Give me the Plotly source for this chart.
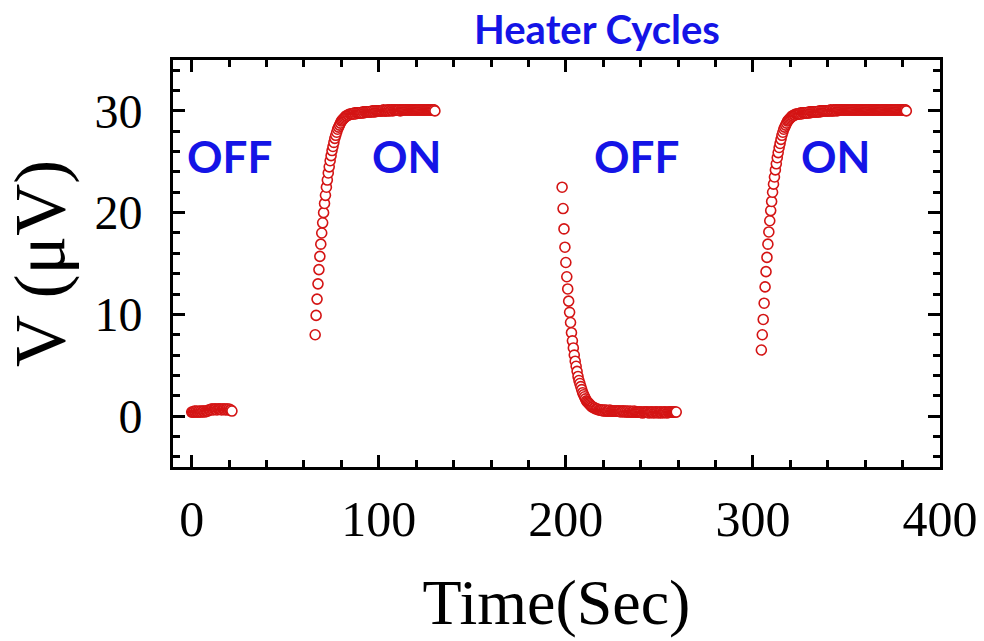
import plotly.graph_objects as go

# ---- data (time in s, voltage in µV) ----
t_off1 = [0.0, 0.5, 1.0, 1.5, 2.0, 2.5, 3.0, 3.5, 4.0, 4.5,
          5.0, 5.5, 6.0, 6.5, 7.0, 7.5, 8.0, 8.5, 9.0, 9.5,
          10.0, 10.5, 11.0, 11.5, 12.0, 12.5, 13.0, 13.5, 14.0, 14.5,
          15.0, 15.5, 16.0, 16.5, 17.0, 17.5, 18.0, 18.5, 19.0, 19.5,
          20.0, 20.5, 21.0, 21.5]
v_off1 = [0.4, 0.4, 0.4, 0.5, 0.4, 0.5, 0.4, 0.4, 0.5, 0.4,
          0.5, 0.4, 0.5, 0.5, 0.4, 0.5, 0.5, 0.5, 0.6, 0.6,
          0.6, 0.7, 0.7, 0.6, 0.7, 0.7, 0.7, 0.6, 0.7, 0.7,
          0.7, 0.7, 0.6, 0.7, 0.7, 0.7, 0.6, 0.7, 0.7, 0.6,
          0.7, 0.6, 0.6, 0.5]

t_on1 = [66.0, 66.5, 67.0, 67.5, 68.0, 68.5, 69.0, 69.5, 70.0, 70.5,
         71.0, 71.5, 72.0, 72.5, 73.0, 73.5, 74.0, 74.5, 75.0, 75.5,
         76.0, 76.5, 77.0, 77.5, 78.0, 78.5, 79.0, 79.5, 80.0, 80.5,
         81.0, 81.5, 82.0, 82.5, 83.0, 83.5, 84.0, 84.5, 85.0,
         85.5, 86.0, 86.5, 87.0, 87.5, 88.0, 88.5, 89.0, 89.5, 90.0,
         90.5, 91.0, 91.5, 92.0, 92.5, 93.0, 93.5, 94.0, 94.5, 95.0,
         95.5, 96.0, 96.5, 97.0, 97.5, 98.0, 98.5, 99.0, 99.5, 100.0,
         100.5, 101.0, 101.5, 102.0, 102.5, 103.0, 103.5, 104.0, 104.5, 105.0,
         105.5, 106.0, 106.5, 107.0, 107.5, 108.0, 108.5, 109.0, 109.5, 110.0,
         110.5, 111.0, 111.5, 112.0, 112.5, 113.0, 113.5, 114.0, 114.5, 115.0,
         115.5, 116.0, 116.5, 117.0, 117.5, 118.0, 118.5, 119.0, 119.5, 120.0,
         120.5, 121.0, 121.5, 122.0, 122.5, 123.0, 123.5, 124.0, 124.5, 125.0,
         125.5, 126.0, 126.5, 127.0, 127.5, 128.0, 128.5, 129.0, 129.5, 130.0]
v_on1 = [8.0, 9.9, 11.5, 13.0, 14.4, 15.7, 16.9, 18.0, 19.0, 20.0,
         20.9, 21.7, 22.5, 23.2, 23.9, 24.5, 25.1, 25.6, 26.1, 26.5,
         26.9, 27.3, 27.6, 27.9, 28.2, 28.4, 28.6, 28.8, 29.0, 29.1,
         29.2, 29.3, 29.4, 29.5, 29.5, 29.6, 29.6, 29.7, 29.7,
         29.7, 29.7, 29.7, 29.8, 29.7, 29.8, 29.8, 29.8, 29.8, 29.8,
         29.8, 29.8, 29.9, 29.8, 29.9, 29.9, 29.9, 29.9, 29.9, 29.9,
         29.9, 29.9, 30.0, 29.9, 30.0, 29.9, 30.0, 30.0, 30.0, 30.0,
         30.0, 30.0, 30.0, 30.0, 30.1, 30.0, 30.0, 30.0, 30.1, 30.0,
         30.1, 30.0, 30.1, 30.1, 30.0, 30.1, 30.1, 30.1, 30.1, 30.1,
         30.1, 30.1, 30.0, 30.1, 30.1, 30.1, 30.1, 30.1, 30.1, 30.1,
         30.1, 30.1, 30.1, 30.1, 30.1, 30.1, 30.1, 30.1, 30.1, 30.1,
         30.1, 30.1, 30.1, 30.1, 30.1, 30.1, 30.1, 30.1, 30.1, 30.1,
         30.1, 30.1, 30.1, 30.1, 30.1, 30.1, 30.1, 30.1, 30.1, 30.0]

t_off2 = [198.0, 198.5, 199.0, 199.5, 200.0, 200.5, 201.0, 201.5, 202.0, 202.5,
          203.0, 203.5, 204.0, 204.5, 205.0, 205.5, 206.0, 206.5, 207.0, 207.5,
          208.0, 208.5, 209.0, 209.5, 210.0, 210.5, 211.0, 211.5, 212.0, 212.5,
          213.0, 213.5, 214.0, 214.5, 215.0, 215.5, 216.0, 216.5, 217.0, 217.5,
          218.0, 218.5, 219.0, 219.5, 220.0, 220.5, 221.0, 221.5, 222.0, 222.5,
          223.0, 223.5, 224.0, 224.5, 225.0, 225.5, 226.0, 226.5, 227.0, 227.5,
          228.0, 228.5, 229.0, 229.5, 230.0, 230.5, 231.0, 231.5, 232.0, 232.5,
          233.0, 233.5, 234.0, 234.5, 235.0, 235.5, 236.0, 236.5, 237.0, 237.5,
          238.0, 238.5, 239.0, 239.5, 240.0, 240.5, 241.0, 241.5, 242.0, 242.5,
          243.0, 243.5, 244.0, 244.5, 245.0, 245.5, 246.0, 246.5, 247.0, 247.5,
          248.0, 248.5, 249.0, 249.5, 250.0, 250.5, 251.0, 251.5, 252.0, 252.5,
          253.0, 253.5, 254.0, 254.5, 255.0, 255.5, 256.0, 256.5, 257.0, 257.5,
          258.0, 258.5, 259.0]
v_off2 = [22.5, 20.4, 18.4, 16.6, 15.1, 13.7, 12.5, 11.3, 10.2, 9.2,
          8.2, 7.4, 6.7, 6.0, 5.4, 4.9, 4.4, 3.9, 3.5, 3.2,
          2.9, 2.6, 2.3, 2.1, 1.9, 1.7, 1.5, 1.4, 1.3, 1.2,
          1.1, 1.0, 0.9, 0.9, 0.8, 0.8, 0.7, 0.7, 0.7, 0.6,
          0.6, 0.6, 0.6, 0.6, 0.5, 0.6, 0.5, 0.6, 0.5, 0.5,
          0.5, 0.6, 0.5, 0.5, 0.5, 0.5, 0.5, 0.5, 0.5, 0.5,
          0.5, 0.5, 0.5, 0.4, 0.5, 0.5, 0.5, 0.4, 0.5, 0.4,
          0.5, 0.4, 0.4, 0.5, 0.4, 0.4, 0.4, 0.5, 0.4, 0.4,
          0.4, 0.4, 0.4, 0.4, 0.4, 0.4, 0.3, 0.4, 0.4, 0.4,
          0.4, 0.4, 0.4, 0.3, 0.4, 0.4, 0.4, 0.4, 0.3, 0.4,
          0.4, 0.4, 0.4, 0.3, 0.4, 0.4, 0.4, 0.3, 0.4, 0.4,
          0.4, 0.4, 0.3, 0.4, 0.4, 0.4, 0.4, 0.4, 0.4, 0.4,
          0.4, 0.4, 0.4]

t_on2 = [304.5, 305.0, 305.5, 306.0, 306.5, 307.0, 307.5, 308.0, 308.5, 309.0,
         309.5, 310.0, 310.5, 311.0, 311.5, 312.0, 312.5, 313.0, 313.5, 314.0,
         314.5, 315.0, 315.5, 316.0, 316.5, 317.0, 317.5, 318.0, 318.5, 319.0,
         319.5, 320.0, 320.5, 321.0, 321.5, 322.0, 322.5, 323.0,
         323.5, 324.0, 324.5, 325.0, 325.5, 326.0, 326.5, 327.0, 327.5, 328.0,
         328.5, 329.0, 329.5, 330.0, 330.5, 331.0, 331.5, 332.0, 332.5, 333.0,
         333.5, 334.0, 334.5, 335.0, 335.5, 336.0, 336.5, 337.0, 337.5, 338.0,
         338.5, 339.0, 339.5, 340.0, 340.5, 341.0, 341.5, 342.0, 342.5, 343.0,
         343.5, 344.0, 344.5, 345.0, 345.5, 346.0, 346.5, 347.0, 347.5, 348.0,
         348.5, 349.0, 349.5, 350.0, 350.5, 351.0, 351.5, 352.0, 352.5, 353.0,
         353.5, 354.0, 354.5, 355.0, 355.5, 356.0, 356.5, 357.0, 357.5, 358.0,
         358.5, 359.0, 359.5, 360.0, 360.5, 361.0, 361.5, 362.0, 362.5, 363.0,
         363.5, 364.0, 364.5, 365.0, 365.5, 366.0, 366.5, 367.0, 367.5, 368.0,
         368.5, 369.0, 369.5, 370.0, 370.5, 371.0, 371.5, 372.0, 372.5, 373.0,
         373.5, 374.0, 374.5, 375.0, 375.5, 376.0, 376.5, 377.0, 377.5, 378.0,
         378.5, 379.0, 379.5, 380.0, 380.5, 381.0, 381.5, 382.0]
v_on2 = [6.5, 8.0, 9.5, 11.1, 12.7, 14.2, 15.6, 16.9, 18.1, 19.2,
         20.2, 21.1, 22.0, 22.8, 23.5, 24.2, 24.8, 25.4, 25.9, 26.4,
         26.8, 27.2, 27.6, 27.9, 28.2, 28.4, 28.6, 28.8, 29.0, 29.1,
         29.2, 29.3, 29.4, 29.5, 29.5, 29.6, 29.6, 29.7,
         29.7, 29.7, 29.7, 29.7, 29.8, 29.7, 29.8, 29.8, 29.8, 29.8,
         29.8, 29.8, 29.8, 29.9, 29.8, 29.9, 29.9, 29.9, 29.9, 29.9,
         29.9, 29.9, 29.9, 29.9, 30.0, 29.9, 30.0, 30.0, 30.0, 30.0,
         30.0, 30.0, 30.0, 30.0, 30.0, 30.0, 30.1, 30.0, 30.0, 30.1,
         30.0, 30.1, 30.1, 30.0, 30.1, 30.1, 30.1, 30.1, 30.1, 30.1,
         30.1, 30.1, 30.1, 30.1, 30.1, 30.1, 30.1, 30.1, 30.1, 30.1,
         30.1, 30.1, 30.1, 30.1, 30.1, 30.1, 30.1, 30.1, 30.1, 30.1,
         30.1, 30.1, 30.1, 30.1, 30.1, 30.1, 30.1, 30.1, 30.1, 30.1,
         30.1, 30.1, 30.1, 30.1, 30.1, 30.1, 30.1, 30.1, 30.1, 30.1,
         30.1, 30.1, 30.1, 30.1, 30.1, 30.1, 30.1, 30.1, 30.1, 30.1,
         30.1, 30.1, 30.1, 30.1, 30.1, 30.1, 30.1, 30.1, 30.1, 30.1,
         30.1, 30.1, 30.1, 30.1, 30.1, 30.1, 30.1, 30.0]

label_text = ["OFF", "ON", "OFF", "ON"]
label_x = [20, 115, 238, 344]
label_y = [25.6, 25.6, 25.6, 25.6]

x_tickvals = [0, 100, 200, 300, 400]
y_tickvals = [0, 10, 20, 30]

# ---- figure ----
fig = go.Figure()
marker = dict(symbol="circle", size=10, color="white",
              line=dict(color="#d41414", width=1.6))
for tx, vy in [(t_off1, v_off1), (t_on1, v_on1), (t_off2, v_off2), (t_on2, v_on2)]:
    fig.add_trace(go.Scatter(x=tx, y=vy, mode="markers", marker=marker,
                             showlegend=False, hoverinfo="x+y"))

for txt, ax, ay in zip(label_text, label_x, label_y):
    fig.add_annotation(x=ax, y=ay, xref="x", yref="y", text="<b>" + txt + "</b>",
                       showarrow=False,
                       font=dict(family="Lato", size=44, color="#1414e6"))

axis_common = dict(
    showline=True, linewidth=3, linecolor="black", mirror="allticks",
    ticks="inside", ticklen=12, tickwidth=3, tickcolor="black",
    showgrid=False, zeroline=False,
)

fig.update_xaxes(
    range=[-10, 400], tickvals=x_tickvals, ticktext=[str(v) for v in x_tickvals],
    tickfont=dict(family="Liberation Serif", size=50, color="black"),
    ticklabelstandoff=6,
    minor=dict(dtick=20, ticks="inside", ticklen=7, tickwidth=3, tickcolor="black", showgrid=False),
    title=dict(text="Time(Sec)", font=dict(family="Liberation Serif", size=64, color="black"),
               standoff=34),
    **axis_common,
)
fig.update_yaxes(
    range=[-5, 35], tickvals=y_tickvals, ticktext=[str(v) for v in y_tickvals],
    tickfont=dict(family="Liberation Serif", size=48, color="black"),
    ticklabelstandoff=18,
    minor=dict(dtick=2, ticks="inside", ticklen=7, tickwidth=3, tickcolor="black", showgrid=False),
    title=dict(text="V (μV)", font=dict(family="Liberation Serif", size=72, color="black"),
               standoff=10),
    **axis_common,
)

fig.update_layout(
    width=984, height=641,
    margin=dict(l=173, r=44, t=60, b=174, autoexpand=False),
    paper_bgcolor="white", plot_bgcolor="white",
    title=dict(text="<b>Heater Cycles</b>", x=597 / 984, xref="container", xanchor="center",
               y=1 - 30 / 641, yref="container", yanchor="middle",
               font=dict(family="Lato", size=40, color="#1414e6")),
)

fig.write_html("out.html")
